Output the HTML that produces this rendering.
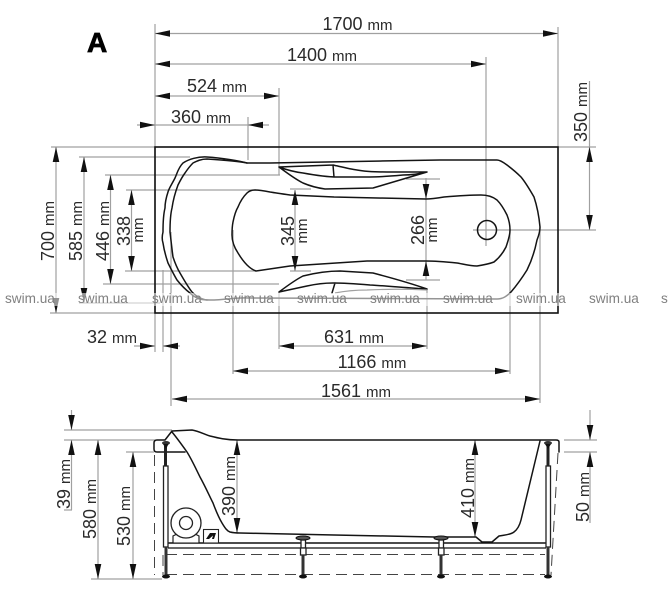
<!DOCTYPE html>
<html>
<head>
<meta charset="utf-8">
<style>
html,body{margin:0;padding:0;background:#fff;width:668px;height:600px;overflow:hidden}
svg{display:block;filter:blur(.3px)}
text{font-family:"Liberation Sans",sans-serif;font-size:18px;fill:#2a2a2a;text-anchor:middle}
tspan.m{font-size:15px}
.d{stroke:#a0a0a0;stroke-width:1.2;fill:none}
.o{stroke:#141414;stroke-width:1.5;fill:none;stroke-linejoin:round;stroke-linecap:round}
.f{stroke:#222;stroke-width:1.3;fill:#fff}
.w{font-size:13.6px;fill:#808080;text-anchor:start}
</style>
</head>
<body>
<svg width="668" height="600" viewBox="0 0 668 600" xmlns="http://www.w3.org/2000/svg">
<defs>
<marker id="a" markerUnits="userSpaceOnUse" markerWidth="15" markerHeight="7" refX="15" refY="3.5" orient="auto-start-reverse">
<path d="M0,0.2 L15,3.5 L0,6.8 Z" fill="#111"/>
</marker>
</defs>

<!-- extension lines top view -->
<path class="d" d="M155 24V352M558 27V147M486 57V245M279 88V175M248 117V160
M51 147H155M50 313H155M79 157H190M79 303H160M105 175H280M103 284H279M126 190H256M125 271H256
M558 147H596M473 230H596M486 216V246
M163 270V352M171 232V406M233 230V374M279 292V349M427 289V349M510 230V374M540 227V403
M290 189H311M290 271H311M406 179H440M406 280H440"/>

<!-- dimension lines top view -->
<path class="d" d="M155 33.5H558" marker-start="url(#a)" marker-end="url(#a)"/>
<path class="d" d="M155 64H486" marker-start="url(#a)" marker-end="url(#a)"/>
<path class="d" d="M155 96H279" marker-start="url(#a)" marker-end="url(#a)"/>
<path class="d" d="M137 125H155" marker-end="url(#a)"/>
<path class="d" d="M155 125H248"/>
<path class="d" d="M269 125H248" marker-end="url(#a)"/>
<path class="d" d="M56 147V313" marker-start="url(#a)" marker-end="url(#a)"/>
<path class="d" d="M84 157V303" marker-start="url(#a)" marker-end="url(#a)"/>
<path class="d" d="M110.500 175V284" marker-start="url(#a)" marker-end="url(#a)"/>
<path class="d" d="M131.500 190V271" marker-start="url(#a)" marker-end="url(#a)"/>
<path class="d" d="M295 190V271" marker-start="url(#a)" marker-end="url(#a)"/>
<path class="d" d="M426 178V199" marker-end="url(#a)"/>
<path class="d" d="M426 199V261"/>
<path class="d" d="M426 280V261" marker-end="url(#a)"/>
<path class="d" d="M589.500 147V230" marker-start="url(#a)" marker-end="url(#a)"/>
<path class="d" d="M589.500 81V147"/>
<path class="d" d="M279 346H427" marker-start="url(#a)" marker-end="url(#a)"/>
<path class="d" d="M233 371H510" marker-start="url(#a)" marker-end="url(#a)"/>
<path class="d" d="M172 399H540" marker-start="url(#a)" marker-end="url(#a)"/>
<path class="d" d="M134 346H155" marker-end="url(#a)"/>
<path class="d" d="M180 346H163" marker-end="url(#a)"/>

<!-- tub, top view -->
<rect x="155" y="147" width="403" height="166" fill="none" stroke="#111" stroke-width="1.6"/>
<path class="o" d="M247 163C240 161 222 158 207 157C198 156.500 189 159 183 163C178 168 177 174 175 178C172 184 169 188 168 192C166 198 165 203 165 208C163 216 163 224 163 232C162 236 162 240 163 243C164 250 166 257 168 263C171 269 174 275 177 280C181 285 186 290 190 293C194 297 197 298 200 299C204 300 207 300 210 300C226 300 238 297 248 298L497 299C503 299 507 296 511 292C517 285 522 278 527 270C532 260 535 250 537 240C539 235 540 231 540 227C539 216 537 206 534 197C530 190 526 183 521 177C516 172 511 168 507 165C503 162 500 160 497 160L440 160L270 163L247 163Z"/>
<path class="o" d="M247 163C238 161 223 160 207 159C201 159 197 161 193 163C189 167 187 170 185 173C182 177 180 181 178 185C175 193 173 201 172 208C170 216 170 224 170 232C171 240 172 250 173 257C175 263 177 268 180 273C184 280 188 287 192 292C195 295 198 297 200 298C203 299 205 300 207 300"/>
<path class="o" d="M290 195C283 194 276 193 270 192C265 191 260 190 255 190C252 190 249 191 247 193C243 197 240 202 238 207C235 212 234 217 233 222C232 227 232 231 232 235C232 241 234 247 238 253C241 258 244 262 247 265C250 268 253 270 256 271L290 266L367 261L426 261C437 261 447 262 457 263C463 264 470 266 477 266C483 265 489 264 494 262C499 258 503 253 506 247C508 241 510 236 510 230C510 225 509 220 507 215C504 209 501 204 497 200C492 196 487 195 481 195C468 195 456 196 444 197C438 198 432 199 426 199L334 197L290 195Z"/>
<circle cx="487" cy="230" r="9.500" fill="none" stroke="#141414" stroke-width="1.500"/>
<!-- fins -->
<path class="o" d="M279 167L333 165C342 167 350 169 357 170C367 172 377 172 387 172H427M279 167C287 173 295 179 303 183C310 186 318 188 325 189L373 188L427 172M279 167C287 170 295 172 303 173C314 175 326 177 337 177L370 177C381 177 392 176 403 175C411 175 419 174 427 172M333 165L334 177"/>
<path class="o" d="M279 292C287 286 295 280 303 276C315 273 328 271 340 271L373 273C392 278 410 283 427 289M279 292C288 290 298 288 307 286C316 284 324 283 333 283C345 283 358 284 370 285C389 286 408 288 427 289M335 283L332 293"/>
<path class="d" d="M335 293C345 291 356 290 367 290C387 289 407 289 427 290"/>

<!-- watermark band -->
<rect x="0" y="293" width="668" height="13" fill="#fff" opacity=".55"/>
<text class="w" x="5" y="303">swim.ua</text>
<text class="w" x="78" y="303">swim.ua</text>
<text class="w" x="152" y="303">swim.ua</text>
<text class="w" x="224" y="303">swim.ua</text>
<text class="w" x="297" y="303">swim.ua</text>
<text class="w" x="370" y="303">swim.ua</text>
<text class="w" x="443" y="303">swim.ua</text>
<text class="w" x="516" y="303">swim.ua</text>
<text class="w" x="589" y="303">swim.ua</text>
<text class="w" x="661" y="303">swim.ua</text>

<!-- top view labels -->
<text x="87" y="52" style="font-size:28px;font-weight:bold;fill:#000;text-anchor:start;stroke:#000;stroke-width:.8">A</text>
<text x="357.500" y="30">1700 <tspan class="m">mm</tspan></text>
<text x="322" y="61">1400 <tspan class="m">mm</tspan></text>
<text x="217" y="92">524 <tspan class="m">mm</tspan></text>
<text x="201" y="123">360 <tspan class="m">mm</tspan></text>
<text transform="translate(54 231) rotate(-90)">700 <tspan class="m">mm</tspan></text>
<text transform="translate(82 231) rotate(-90)">585 <tspan class="m">mm</tspan></text>
<text transform="translate(109 231) rotate(-90)">446 <tspan class="m">mm</tspan></text>
<text transform="translate(130 231) rotate(-90)">338</text>
<text transform="translate(143 230) rotate(-90)"><tspan class="m">mm</tspan></text>
<text transform="translate(294 231) rotate(-90)">345</text>
<text transform="translate(307 231) rotate(-90)"><tspan class="m">mm</tspan></text>
<text transform="translate(424 230) rotate(-90)">266</text>
<text transform="translate(437 230) rotate(-90)"><tspan class="m">mm</tspan></text>
<text transform="translate(587 112) rotate(-90)">350 <tspan class="m">mm</tspan></text>
<text x="112" y="343">32 <tspan class="m">mm</tspan></text>
<text x="354" y="343">631 <tspan class="m">mm</tspan></text>
<text x="372" y="368">1166 <tspan class="m">mm</tspan></text>
<text x="356" y="397">1561 <tspan class="m">mm</tspan></text>

<!-- side view extension and dims -->
<path class="d" d="M64 430H172M64 440H155M91 579H162M126 452H154M564 440H597M564 452H597"/>
<path class="d" d="M71.500 410V430" marker-end="url(#a)"/>
<path class="d" d="M71.500 510V440" marker-end="url(#a)"/>
<path class="d" d="M64 510H72"/>
<path class="d" d="M98 440V579" marker-start="url(#a)" marker-end="url(#a)"/>
<path class="d" d="M133 452V579" marker-start="url(#a)" marker-end="url(#a)"/>
<path class="d" d="M237 440V533" marker-start="url(#a)" marker-end="url(#a)"/>
<path class="d" d="M475 440V537" marker-start="url(#a)" marker-end="url(#a)"/>
<path class="d" d="M590 410V440" marker-end="url(#a)"/>
<path class="d" d="M590 523V452" marker-end="url(#a)"/>

<!-- dashed -->
<path fill="none" stroke="#444" stroke-width="1" stroke-dasharray="11 6" d="M166 554.500H545M166 574.500H545M154.500 455V575M163 555V575M558 453L551 575"/>

<!-- side profile -->
<path class="o" d="M185 452H157Q154 452 154 449V443Q154 440 157 440H165L172 431L192 430C198 431 204 434 210 436C218 438 226 440 238 440H556Q559 440 559 442V452"/>
<path class="o" d="M172 432C177 438 182 445 187 452C192 460 196 469 200 477C205 486 209 495 213 503C216 511 219 518 222 523C225 528 227 531 230 532C234 533 237 533 240 533L334 535L434 537H476L482 542H492L499 536C504 535 510 535 514 532C518 529 520 524 521 520L540 441"/>
<path d="M168 543H546" stroke="#111" stroke-width="1.600" fill="none"/>
<path d="M168 548H546" stroke="#111" stroke-width="1.300" fill="none"/>

<!-- legs -->
<g>
<path d="M165.500 446V466" stroke="#222" stroke-width="3"/>
<rect class="f" x="163.500" y="466" width="4.500" height="81"/>
<path d="M166 547V575" stroke="#333" stroke-width="3"/>
<ellipse cx="166" cy="576.500" rx="4" ry="2" fill="#111"/>
<ellipse cx="166" cy="443" rx="4" ry="2" fill="#333"/>
<path d="M163 444L168.500 444L166 449Z" fill="#111"/>

<path d="M548 446V466" stroke="#222" stroke-width="3"/>
<rect class="f" x="546" y="466" width="4.500" height="81"/>
<path d="M548 547V575" stroke="#333" stroke-width="3"/>
<ellipse cx="548" cy="576.500" rx="4" ry="2" fill="#111"/>
<ellipse cx="548" cy="443" rx="4" ry="2" fill="#333"/>
<path d="M545 444L551 444L548 449Z" fill="#111"/>

<rect class="f" x="301" y="540" width="4.500" height="8"/>
<rect class="f" x="300.500" y="548" width="5.500" height="7"/>
<path d="M303 555V575" stroke="#333" stroke-width="3"/>
<ellipse cx="303" cy="576.500" rx="4" ry="2" fill="#111"/>
<ellipse cx="303" cy="538" rx="7" ry="2" fill="#555" stroke="#111"/>

<rect class="f" x="439" y="540" width="4.500" height="8"/>
<rect class="f" x="438.500" y="548" width="5.500" height="7"/>
<path d="M441 555V575" stroke="#333" stroke-width="3"/>
<ellipse cx="441" cy="576.500" rx="4" ry="2" fill="#111"/>
<ellipse cx="441" cy="538" rx="7" ry="2" fill="#555" stroke="#111"/>
</g>

<!-- motor -->
<path d="M173 542.500V536L177 534H195L199 536V542.500" fill="#fff" stroke="#222" stroke-width="1.200"/>
<circle cx="186" cy="523" r="15" fill="#fff" stroke="#222" stroke-width="1.300"/>
<circle cx="186" cy="523" r="6.500" fill="#fff" stroke="#222" stroke-width="1.300"/>
<rect x="203.500" y="529.500" width="15" height="13.500" fill="#fff" stroke="#222" stroke-width="1.100"/>
<path d="M206 539L210 533H216L214 539H212L213 535.500L209 539Z" fill="#111"/>

<!-- side labels -->
<text transform="translate(70 484) rotate(-90)">39 <tspan class="m">mm</tspan></text>
<text transform="translate(96 509) rotate(-90)">580 <tspan class="m">mm</tspan></text>
<text transform="translate(130 516) rotate(-90)">530 <tspan class="m">mm</tspan></text>
<text transform="translate(235 486) rotate(-90)">390 <tspan class="m">mm</tspan></text>
<text transform="translate(474 488) rotate(-90)">410 <tspan class="m">mm</tspan></text>
<text transform="translate(589 497) rotate(-90)">50 <tspan class="m">mm</tspan></text>
</svg>
</body>
</html>
